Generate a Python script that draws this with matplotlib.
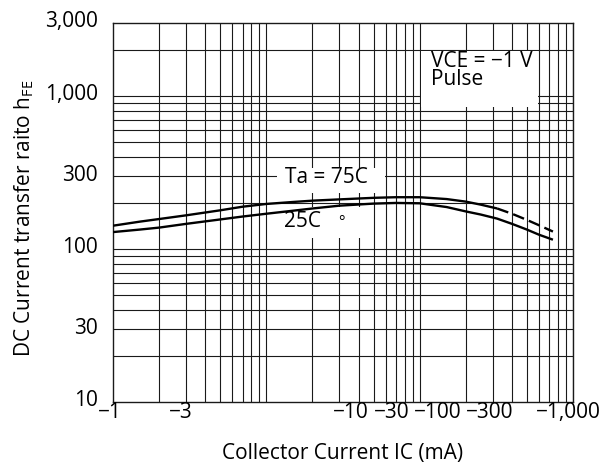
import matplotlib
matplotlib.use("Agg")
import matplotlib.pyplot as plt
import matplotlib.transforms as mtransforms

plt.rcParams['font.family'] = ['Open Sans', 'DejaVu Sans']

# Collector current |IC| (mA) and DC current gain hFE
ic_75 = [1, 1.5, 2, 3, 5, 7, 10, 15, 20, 30, 50, 70, 100, 150, 200, 250, 320]
hfe_75 = [142, 151, 157, 166, 179, 189, 197, 203, 207, 211, 216, 218, 218, 212, 204, 195, 184]
ic_75_ext = [320, 400, 500, 600, 740]
hfe_75_ext = [184, 170, 155, 143, 130]

ic_25 = [1, 1.5, 2, 3, 5, 7, 10, 15, 20, 30, 50, 70, 100, 150, 200, 250, 320, 400, 500, 600, 740]
hfe_25 = [129, 134, 138, 146, 156, 163, 170, 178, 184, 192, 198, 200, 199, 188, 176, 168, 158, 146, 134, 124, 115]

y_ticks = [10, 30, 100, 300, 1000, 3000]
y_tick_labels = ['10', '30', '100', '300', '1,000', '3,000']
x_tick_labels = ['\u22121', '\u22123', '\u221210', '\u221230', '\u2212100', '\u2212300', '\u22121,000']
# horizontal placement of the x labels (axes fraction)
x_label_pos = [-0.007, 0.148, 0.517, 0.606, 0.705, 0.818, 0.989]

FS = 15

fig = plt.figure(figsize=(6.04, 4.70), dpi=100)
ax = fig.add_axes([113 / 604, 68 / 470, 460 / 604, 379 / 470])
ax.set_xscale('log')
ax.set_yscale('log')
ax.set_xlim(1, 1000)
ax.set_ylim(10, 3000)

# log grid: every 1..9 in each decade
grid_kw = dict(color='#1a1a1a', lw=0.8, zorder=1)
for dec in [1, 10, 100]:
    for m in range(2, 11):
        ax.axvline(dec * m, **grid_kw)
for dec in [10, 100, 1000]:
    for m in range(1, 10):
        v = dec * m
        if 10 < v < 3000:
            ax.axhline(v, **grid_kw)

for s in ax.spines.values():
    s.set_color('#1a1a1a')
    s.set_linewidth(1.0)

ax.plot(ic_75, hfe_75, color='black', lw=1.7, zorder=5, solid_capstyle='butt')
ax.plot(ic_75_ext, hfe_75_ext, color='black', lw=1.7, zorder=5,
        linestyle=(0, (5.0, 2.2)))
ax.plot(ic_25, hfe_25, color='black', lw=1.7, zorder=5, solid_capstyle='butt')

ax.tick_params(length=0)
ax.set_xticks([])
ax.set_xticks([], minor=True)
ax.set_yticks(y_ticks)
ax.set_yticklabels(y_tick_labels, fontsize=FS)
ax.set_yticks([], minor=True)
ax.tick_params(axis='y', pad=11)
lift = mtransforms.ScaledTranslation(0, 0.035, fig.dpi_scale_trans)
for lbl in ax.get_yticklabels():
    lbl.set_transform(lbl.get_transform() + lift)

trans = mtransforms.blended_transform_factory(ax.transAxes, ax.transAxes)
for lab, xp in zip(x_tick_labels, x_label_pos):
    ax.text(xp, -0.029, lab, transform=trans, ha='center', va='center', fontsize=FS)

fig.text(343 / 604, 17 / 470, 'Collector Current IC (mA)', fontsize=FS,
         ha='center', va='center')
fig.text(24 / 604, 252 / 470, 'DC Current transfer raito h$_{\\mathregular{FE}}$',
         fontsize=FS, rotation=90, ha='center', va='center')

# annotation boxes
ax.add_patch(plt.Rectangle((421 / 604, 363 / 470), 117 / 604, 56 / 470,
                           transform=fig.transFigure, facecolor='white',
                           edgecolor='none', zorder=3))
ax.text(0.691, 0.927, 'VCE = \u22121 V\nPulse', transform=ax.transAxes,
        fontsize=FS, va='top', ha='left', linespacing=0.85, zorder=4)

ax.add_patch(plt.Rectangle((277 / 604, 277 / 470), 108 / 604, 25 / 470,
                           transform=fig.transFigure, facecolor='white',
                           edgecolor='none', zorder=3))
ax.text(0.374, 0.577, 'Ta = 75C', transform=ax.transAxes, fontsize=FS,
        va='baseline', ha='left', zorder=4)

ax.add_patch(plt.Rectangle((277 / 604, 232 / 470), 89 / 604, 31 / 470,
                           transform=fig.transFigure, facecolor='white',
                           edgecolor='none', zorder=3))
ax.text(0.372, 0.4625, '25C', transform=ax.transAxes, fontsize=FS,
        va='baseline', ha='left', zorder=4)
ax.text(0.4957, 0.464, '\u00b0', transform=ax.transAxes, fontsize=11,
        va='baseline', ha='center', zorder=4)

fig.savefig('out.png', dpi=100)
